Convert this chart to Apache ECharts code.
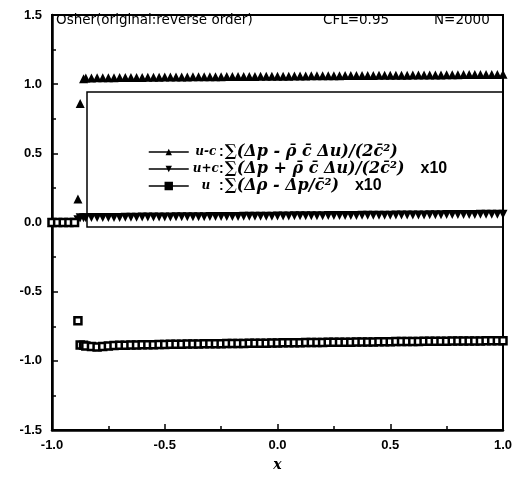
<!DOCTYPE html>
<html>
<head>
<meta charset="utf-8">
<script src="https://cdn.jsdelivr.net/npm/echarts@6/dist/echarts.min.js"></script>
<style>html,body{margin:0;padding:0;background:#fff}#c{width:517px;height:477px}</style>
</head>
<body>
<div id="c"></div>
<script>
// x positions
var xs = [-1.0,-0.975,-0.95,-0.925,-0.9,-0.885,-0.875,-0.86,
  -0.85,-0.825,-0.8,-0.775,-0.75,-0.725,-0.7,-0.675,-0.65,-0.625,-0.6,-0.575,-0.55,-0.525,
  -0.5,-0.475,-0.45,-0.425,-0.4,-0.375,-0.35,-0.325,-0.3,-0.275,-0.25,-0.225,-0.2,-0.175,-0.15,-0.125,-0.1,-0.075,-0.05,-0.025,
  0.0,0.025,0.05,0.075,0.1,0.125,0.15,0.175,0.2,0.225,0.25,0.275,0.3,0.325,0.35,0.375,0.4,0.425,0.45,0.475,
  0.5,0.525,0.55,0.575,0.6,0.625,0.65,0.675,0.7,0.725,0.75,0.775,0.8,0.825,0.85,0.875,0.9,0.925,0.95,0.975,1.0];
// u-c : sum(dp - rho c du)/(2c^2)
var uMinusC = [0,0,0,0,0,0.17,0.86,1.04,
  1.045,1.045,1.046,1.046,1.047,1.047,1.048,1.048,1.048,1.049,1.049,1.05,1.05,1.05,
  1.051,1.051,1.052,1.052,1.052,1.053,1.053,1.053,1.054,1.054,1.054,1.055,1.055,1.055,1.056,1.056,1.056,1.057,1.057,1.057,
  1.058,1.058,1.058,1.059,1.059,1.059,1.06,1.06,1.06,1.061,1.061,1.061,1.062,1.062,1.062,1.063,1.063,1.063,1.064,1.064,
  1.064,1.065,1.065,1.065,1.066,1.066,1.066,1.067,1.067,1.067,1.068,1.068,1.068,1.069,1.069,1.069,1.07,1.07,1.07,1.07,1.071];
// u+c : sum(dp + rho c du)/(2c^2) x10
var uPlusC = [0,0,0,0,0,0.02,0.034,0.035,
  0.035,0.036,0.036,0.036,0.037,0.037,0.037,0.038,0.038,0.038,0.039,0.039,0.039,0.04,
  0.04,0.04,0.041,0.041,0.041,0.042,0.042,0.042,0.043,0.043,0.043,0.044,0.044,0.044,0.045,0.045,0.045,0.046,0.046,0.046,
  0.047,0.047,0.047,0.048,0.048,0.048,0.049,0.049,0.049,0.05,0.05,0.05,0.051,0.051,0.051,0.052,0.052,0.052,0.053,0.053,
  0.053,0.054,0.054,0.054,0.055,0.055,0.055,0.056,0.056,0.056,0.057,0.057,0.057,0.058,0.058,0.058,0.059,0.059,0.059,0.06,0.06];
// u : sum(d rho - dp/c^2) x10
var uOnly = [0,0,0,0,0,-0.71,-0.885,-0.888,
  -0.892,-0.896,-0.9,-0.897,-0.893,-0.89,-0.888,-0.887,-0.886,-0.885,-0.884,-0.884,-0.883,-0.882,
  -0.882,-0.881,-0.88,-0.88,-0.879,-0.879,-0.878,-0.877,-0.877,-0.876,-0.876,-0.875,-0.875,-0.874,-0.874,-0.873,-0.873,-0.872,-0.872,-0.871,
  -0.871,-0.87,-0.87,-0.869,-0.869,-0.868,-0.868,-0.867,-0.867,-0.866,-0.866,-0.866,-0.865,-0.865,-0.864,-0.864,-0.863,-0.863,-0.862,-0.862,
  -0.862,-0.861,-0.861,-0.86,-0.86,-0.86,-0.859,-0.859,-0.858,-0.858,-0.858,-0.857,-0.857,-0.857,-0.856,-0.856,-0.856,-0.855,-0.855,-0.855,-0.855];

var seriesNames = ['u-c','u+c','u'];
var formulas = {
  'u-c': '\u2211(\u0394p - \u03C1\u0304 c\u0304 \u0394u)/(2c\u0304\u00B2)',
  'u+c': '\u2211(\u0394p + \u03C1\u0304 c\u0304 \u0394u)/(2c\u0304\u00B2)',
  'u':   '\u2211(\u0394\u03C1 - \u0394p/c\u0304\u00B2)'
};
var suffix = {'u-c':'', 'u+c':'x10', 'u':'x10'};
var titleParts = ['Osher(original:reverse order)', 'CFL=0.95', 'N=2000'];

function pairs(ys){ return xs.map(function(x,i){ return [x, ys[i]]; }); }

var chart = echarts.init(document.getElementById('c'), null, {renderer:'canvas'});
var labelFont = {color:'#000', fontFamily:'Liberation Sans, Arial', fontWeight:'bold', fontSize:13};
var titleFont = {fontFamily:'DejaVu Sans', fontWeight:'normal', fontSize:13.5, color:'#000'};
var option = {
  animation:false,
  backgroundColor:'#fff',
  grid:{left:52, right:14, top:15, bottom:39, show:true, borderColor:'#000', borderWidth:2},
  title:[
    {text:titleParts[0], left:56, top:13, textStyle:titleFont, padding:0},
    {text:titleParts[1], left:323, top:13, textStyle:titleFont, padding:0},
    {text:titleParts[2], left:434, top:13, textStyle:titleFont, padding:0}
  ],
  xAxis:{type:'value', min:-1, max:1, interval:0.5,
    name:'x', nameLocation:'middle', nameGap:28,
    nameTextStyle:{fontFamily:'DejaVu Serif, serif', fontStyle:'italic', fontWeight:'bold', fontSize:14, color:'#000'},
    axisLine:{show:true, onZero:false, lineStyle:{color:'#000', width:2.5}},
    axisTick:{inside:true, length:6, lineStyle:{color:'#000', width:1.5}},
    minorTick:{show:true, splitNumber:2, length:4, lineStyle:{color:'#000', width:1.5}},
    splitLine:{show:false},
    axisLabel:Object.assign({margin:9, formatter:function(v){return v.toFixed(1);}}, labelFont)
  },
  yAxis:{type:'value', min:-1.5, max:1.5, interval:0.5,
    axisLine:{show:true, onZero:false, lineStyle:{color:'#000', width:2.5}},
    axisTick:{inside:true, length:6, lineStyle:{color:'#000', width:1.5}},
    minorTick:{show:true, splitNumber:2, length:4, lineStyle:{color:'#000', width:1.5}},
    splitLine:{show:false},
    axisLabel:Object.assign({margin:10, formatter:function(v){return v.toFixed(1);}}, labelFont)
  },
  legend:{
    orient:'vertical', left:143, top:139, itemGap:1, itemWidth:40, itemHeight:8,
    data:seriesNames,
    lineStyle:{color:'#000', width:1.5, opacity:1},
    itemStyle:{color:'#000', borderColor:'#000'},
    formatter:function(n){
      return '{lab|' + n + '}{c|:}{f|' + formulas[n] + '}' + (suffix[n] ? '{s|' + suffix[n] + '}' : '');
    },
    textStyle:{color:'#000', rich:{
      lab:{fontFamily:'DejaVu Serif, serif', fontStyle:'italic', fontWeight:'bold', fontSize:12, width:24, align:'center', color:'#000'},
      c:{fontFamily:'Liberation Sans, Arial', fontWeight:'bold', fontSize:14, width:7, align:'left', color:'#000'},
      f:{fontFamily:'DejaVu Serif, serif', fontStyle:'italic', fontWeight:'bold', fontSize:16, color:'#000', padding:[0,16,0,0]},
      s:{fontFamily:'Liberation Sans, Arial', fontWeight:'bold', fontSize:16, color:'#000'}
    }}
  },
  graphic:[
    {type:'rect', z:1, shape:{x:87, y:92, width:416, height:135}, style:{fill:'none', stroke:'#000', lineWidth:1.5}}
  ],
  series:[
    {name:'u-c', type:'line', data:pairs(uMinusC), symbol:'triangle', symbolSize:9,
      itemStyle:{color:'#000'}, lineStyle:{width:0, color:'#000'}, z:3},
    {name:'u+c', type:'line', data:pairs(uPlusC), symbol:'triangle', symbolRotate:180, symbolSize:9,
      itemStyle:{color:'#000'}, lineStyle:{width:0, color:'#000'}, z:3},
    {name:'u', type:'line', data:pairs(uOnly), symbol:'rect', symbolSize:7,
      itemStyle:{color:'#fff', borderColor:'#000', borderWidth:2.5}, lineStyle:{width:0, color:'#000'}, z:3}
  ]
};
chart.setOption(option);
</script>
</body>
</html>
